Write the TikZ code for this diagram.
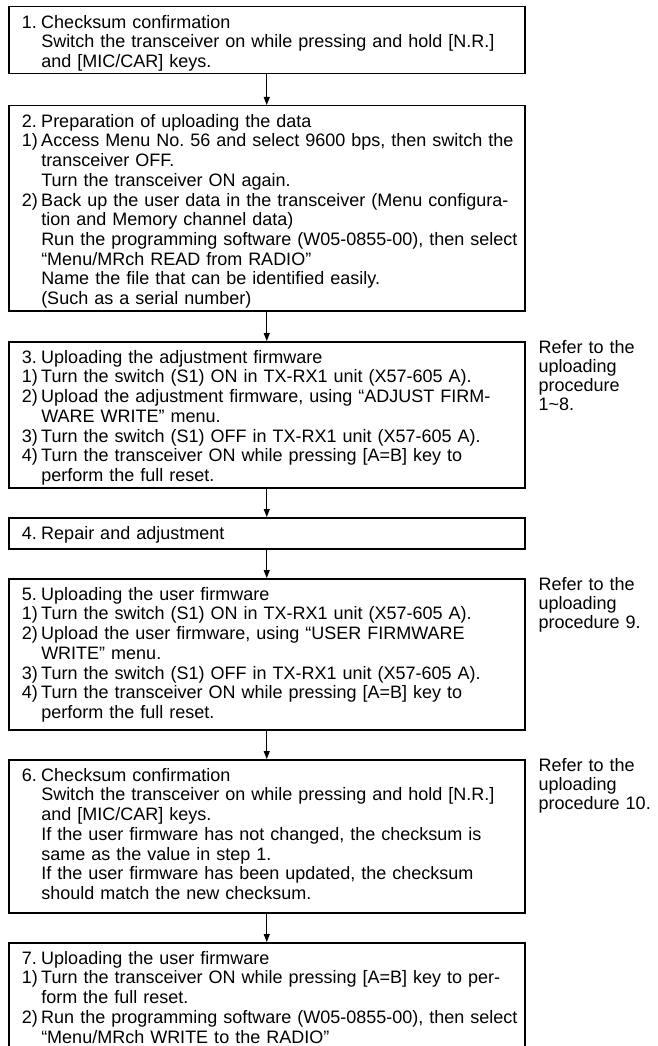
\documentclass[tikz,border=0pt]{standalone}
\usepackage{fontspec}
\setmainfont{Liberation Sans}
\usetikzlibrary{arrows.meta}
\frenchspacing

\newcommand{\itm}[2]{\mbox{\makebox[19.5pt][l]{#1}#2}}
\newcommand{\cnt}[1]{\mbox{\hspace*{19.5pt}#1}}

\tikzset{
  stepbox/.style={draw, line width=1.5pt, anchor=north west, text width=490pt, align=left,
    inner xsep=13pt, inner ysep=0pt, text height=21.5pt, font=\fontsize{18pt}{19.7pt}\selectfont},
  notetext/.style={anchor=north west, text width=115pt, align=left, inner sep=0pt, text height=12pt,
    font=\fontsize{18pt}{19.2pt}\selectfont},
  flow/.style={line width=1.2pt, -{Triangle[length=8pt,width=6pt]}}
}

\begin{document}
\begin{tikzpicture}[x=1pt,y=-1pt]
\useasboundingbox (0,0) rectangle (657,1046);

\node[stepbox, text depth=45.5pt] (s1) at (8,6) {\itm{1.}{Checksum confirmation}\\
  \cnt{Switch the transceiver on while pressing and hold [N.R.]}\\
  \cnt{and [MIC/CAR] keys.}};

\node[stepbox, text depth=183.5pt] (s2) at (8,105) {\itm{2.}{Preparation of uploading the data}\\
  \itm{1)}{Access Menu No. 56 and select 9600 bps, then switch the}\\
  \cnt{transceiver OFF.}\\
  \cnt{Turn the transceiver ON again.}\\
  \itm{2)}{Back up the user data in the transceiver (Menu configura-}\\
  \cnt{tion and Memory channel data)}\\
  \cnt{Run the programming software (W05-0855-00), then select}\\
  \cnt{“Menu/MRch READ from RADIO”}\\
  \cnt{Name the file that can be identified easily.}\\
  \cnt{(Such as a serial number)}};

\node[stepbox, text depth=124.5pt] (s3) at (8,341) {\itm{3.}{Uploading the adjustment firmware}\\
  \itm{1)}{Turn the switch (S1) ON in TX-RX1 unit (X57-605 A).}\\
  \itm{2)}{Upload the adjustment firmware, using “ADJUST FIRM-}\\
  \cnt{WARE WRITE” menu.}\\
  \itm{3)}{Turn the switch (S1) OFF in TX-RX1 unit (X57-605 A).}\\
  \itm{4)}{Turn the transceiver ON while pressing [A=B] key to}\\
  \cnt{perform the full reset.}};

\node[stepbox, text depth=9.5pt] (s4) at (8,517) {\itm{4.}{Repair and adjustment}};

\node[stepbox, text depth=129.5pt] (s5) at (8,578) {\itm{5.}{Uploading the user firmware}\\
  \itm{1)}{Turn the switch (S1) ON in TX-RX1 unit (X57-605 A).}\\
  \itm{2)}{Upload the user firmware, using “USER FIRMWARE}\\
  \cnt{WRITE” menu.}\\
  \itm{3)}{Turn the switch (S1) OFF in TX-RX1 unit (X57-605 A).}\\
  \itm{4)}{Turn the transceiver ON while pressing [A=B] key to}\\
  \cnt{perform the full reset.}};

\node[stepbox, text depth=131.5pt] (s6) at (8,759) {\itm{6.}{Checksum confirmation}\\
  \cnt{Switch the transceiver on while pressing and hold [N.R.]}\\
  \cnt{and [MIC/CAR] keys.}\\
  \cnt{If the user firmware has not changed, the checksum is}\\
  \cnt{same as the value in step 1.}\\
  \cnt{If the user firmware has been updated, the checksum}\\
  \cnt{should match the new checksum.}};

\node[stepbox, text depth=88.5pt] (s7) at (8,942) {\itm{7.}{Uploading the user firmware}\\
  \itm{1)}{Turn the transceiver ON while pressing [A=B] key to per-}\\
  \cnt{form the full reset.}\\
  \itm{2)}{Run the programming software (W05-0855-00), then select}\\
  \cnt{“Menu/MRch WRITE to the RADIO”}};

\node[notetext] (n3) at ([xshift=13pt]s3.north east) {Refer to the\\uploading\\procedure\\1\textasciitilde 8.};
\node[notetext] (n5) at ([xshift=13pt]s5.north east) {Refer to the\\uploading\\procedure 9.};
\node[notetext] (n6) at ([xshift=13pt]s6.north east) {Refer to the\\uploading\\procedure 10.};

\foreach \a/\b in {s1/s2,s2/s3,s3/s4,s4/s5,s5/s6,s6/s7}
  \draw[flow] (\a.south) -- (\b.north);
\end{tikzpicture}
\end{document}
